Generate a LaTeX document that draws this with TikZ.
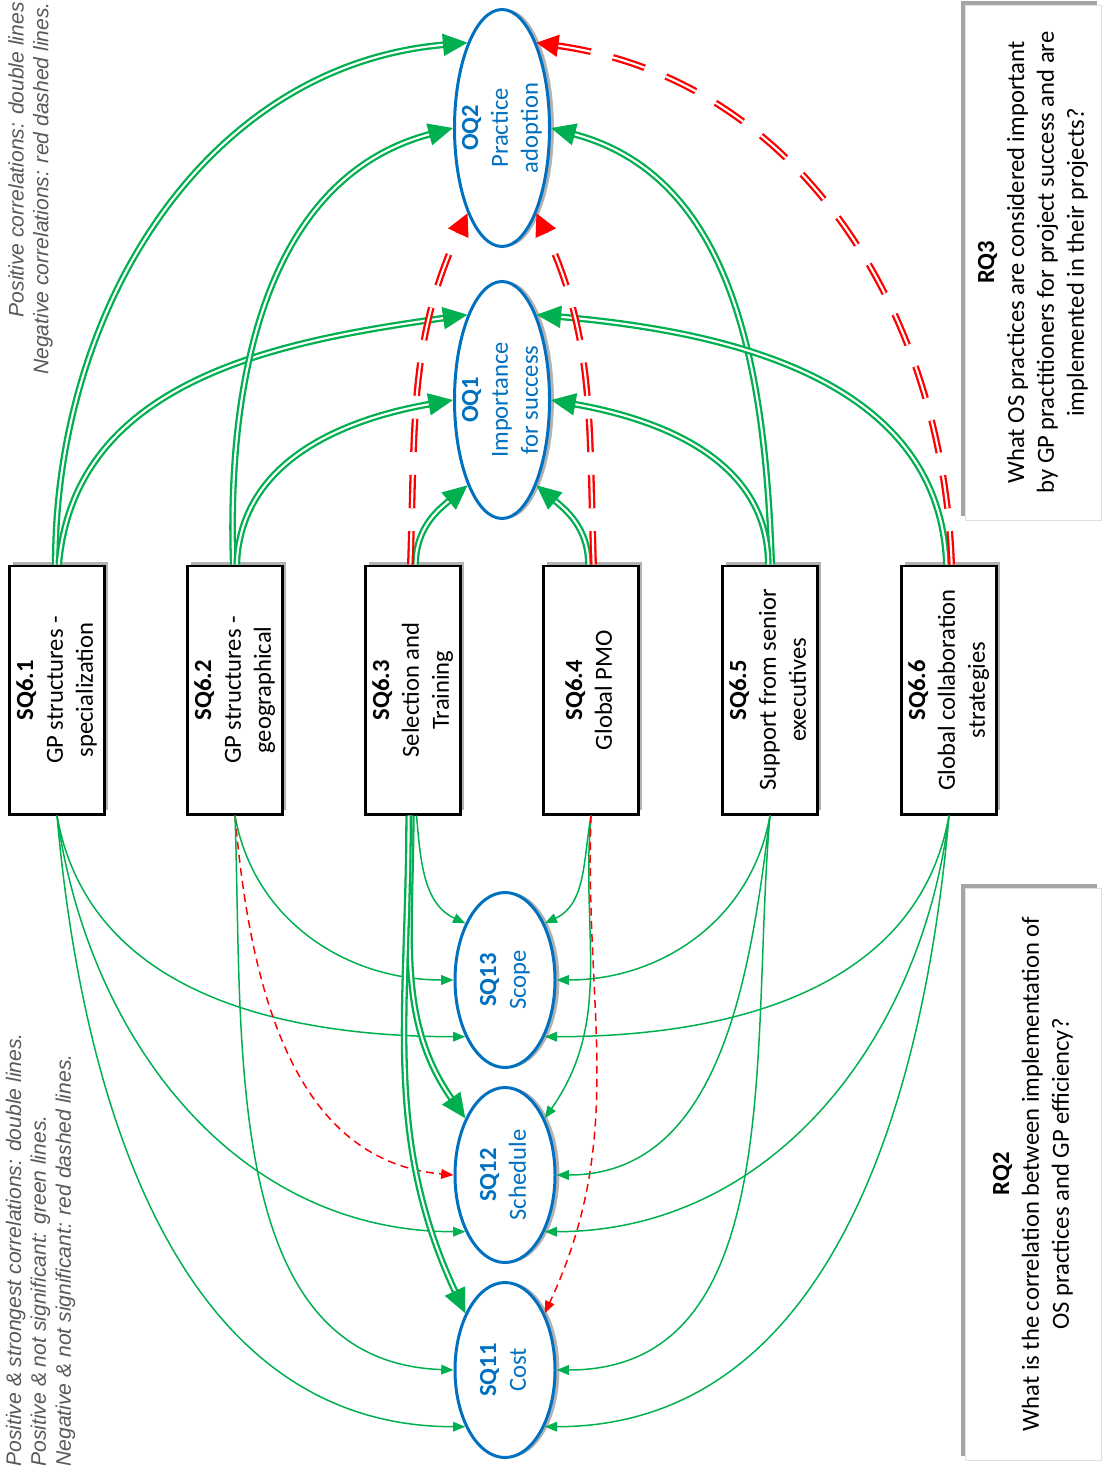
\documentclass[tikz,border=0pt]{standalone}
\usepackage{graphicx}
\usepackage{fontspec}
\setmainfont{Carlito}
\newfontfamily\notefont{Liberation Sans}
\usetikzlibrary{arrows.meta,shapes.geometric,shadows}
\definecolor{osgreen}{RGB}{0,176,80}
\definecolor{osred}{RGB}{255,0,0}
\definecolor{osblue}{RGB}{0,112,192}
\definecolor{notegray}{RGB}{89,89,89}
% text that reads from bottom to top
\newcommand{\uptext}[2][c]{\rotatebox{90}{\begin{tabular}{@{}#1@{}}#2\end{tabular}}}

\begin{document}
\begin{tikzpicture}[x=0.2mm, y=0.2mm, font=\fontsize{14}{17}\selectfont,
    sqbox/.style={rectangle, draw=black, line width=1.7pt, fill=white, inner sep=0pt,
      minimum width=19mm, minimum height=49.6mm,
      drop shadow={shadow xshift=2pt, shadow yshift=2pt, fill=black, opacity=0.3}},
    oqoval/.style={ellipse, draw=osblue, line width=1.7pt, fill=white, inner sep=0pt,
      minimum width=19mm, minimum height=47.4mm,
      drop shadow={shadow xshift=2.5pt, shadow yshift=0pt, fill=black, opacity=0.3}},
    sqoval/.style={oqoval, minimum width=20mm, minimum height=35mm},
    ovaltext/.style={text=osblue, inner sep=0pt},
    rqbox/.style={rectangle, draw=black!12, line width=0.5pt, fill=white, inner sep=0pt,
      drop shadow={shadow xshift=-2.5pt, shadow yshift=2.5pt, fill=black, opacity=0.35}},
    keytext/.style={inner sep=0pt, text=notegray, font=\notefont\itshape\fontsize{12}{14.2}\selectfont},
    posline/.style={draw=osgreen, line width=1.3pt, double=white, double distance=1.2pt,
      -{Triangle[length=14pt,width=12.5pt]}},
    negline/.style={draw=osred, line width=1.3pt, double=white, double distance=1.2pt,
      dash pattern=on 19pt off 13pt, -{Triangle[length=12.5pt,width=12.5pt]}},
    posthin/.style={draw=osgreen, line width=0.85pt, -{Triangle[length=7pt,width=5.5pt]}},
    negthin/.style={draw=osred, line width=0.85pt, dash pattern=on 4.5pt off 3pt,
      -{Triangle[length=7pt,width=5.5pt]}}
  ]
  \useasboundingbox (0,0) rectangle (1103,-1470);

  % research questions
  \node[rqbox, minimum width=27.2mm, minimum height=103mm] (rq3) at (1033,-262.5) {%
    \uptext{\textbf{RQ3}\\What OS practices are considered important\\by GP practitioners for project success and are\\implemented in their projects?}};
  \node[rqbox, minimum width=27.2mm, minimum height=114.4mm] (rq2) at (1033,-1174) {%
    \uptext{\textbf{RQ2}\\What is the correlation between implementation of\\OS practices and GP efficiency?}};

  % legends
  \node[keytext, anchor=north] (keytop) at (31,-2) {%
    \uptext[r]{Positive correlations: double lines\\Negative correlations: red dashed lines.}};
  \node[keytext, anchor=south] (keybot) at (41,-1467) {%
    \uptext[l]{Positive \& strongest correlations: double lines.\\Positive \& not significant: green lines.\\Negative \& not significant: red dashed lines.}};

  % survey questions
  \node[sqbox] (sq61) at (57,-690)  {\uptext{\textbf{SQ6.1}\\GP structures -\\specialization}};
  \node[sqbox] (sq62) at (235,-690) {\uptext{\textbf{SQ6.2}\\GP structures -\\geographical}};
  \node[sqbox] (sq63) at (413,-690) {\uptext{\textbf{SQ6.3}\\Selection and\\Training}};
  \node[sqbox] (sq64) at (591,-690) {\uptext{\textbf{SQ6.4}\\Global PMO}};
  \node[sqbox] (sq65) at (770,-690) {\uptext{\textbf{SQ6.5}\\Support from senior\\executives}};
  \node[sqbox] (sq66) at (949,-690) {\uptext{\textbf{SQ6.6}\\Global collaboration\\strategies}};

  % outcomes
  \node[oqoval, label={[ovaltext]center:\uptext{\textbf{OQ2}\\Practice\\adoption}}] (oq2) at (502,-128) {};
  \node[oqoval, label={[ovaltext]center:\uptext{\textbf{OQ1}\\Importance\\for success}}] (oq1) at (502,-400) {};
  \node[sqoval, label={[ovaltext]center:\uptext{\textbf{SQ13}\\Scope}}] (sq13) at (505,-980) {};
  \node[sqoval, label={[ovaltext]center:\uptext{\textbf{SQ12}\\Schedule}}] (sq12) at (505,-1175) {};
  \node[sqoval, label={[ovaltext]center:\uptext{\textbf{SQ11}\\Cost}}] (sq11) at (505,-1370) {};

  % RQ3 links
  \draw[posline] ([xshift=-1pt]sq61.north) to[out=90,in=185] (oq2.112);
  \draw[posline] ([xshift=1pt]sq61.north) to[out=85,in=188] (oq1.112);
  \draw[posline] ([xshift=-1pt]sq62.north) to[out=92,in=195] (oq2.west);
  \draw[posline] ([xshift=1pt]sq62.north) to[out=88,in=190] (oq1.west);
  \draw[posline] ([xshift=1.5pt]sq63.north) to[out=90,in=220] (oq1.248);
  \draw[posline] ([xshift=-1.5pt]sq64.north) to[out=90,in=-40] (oq1.292);
  \draw[posline] ([xshift=1pt]sq65.north) to[out=92,in=-15] (oq2.east);
  \draw[posline] ([xshift=-1pt]sq65.north) to[out=90,in=-10] (oq1.east);
  \draw[posline] ([xshift=-1.5pt]sq66.north) to[out=92,in=-5] (oq1.68);
  \draw[negline] ([xshift=-1.5pt]sq63.north) to[out=88,in=245] (oq2.248);
  \draw[negline] ([xshift=1.5pt]sq64.north) to[out=92,in=295] (oq2.292);
  \draw[negline] ([xshift=1.5pt]sq66.north) to[out=92,in=-8] (oq2.68);

  % RQ2 links
  \draw[posthin] (sq61.south) to[out=-80,in=180] (sq13.235);
  \draw[posthin] (sq61.south) to[out=-82,in=180] (sq12.235);
  \draw[posthin] (sq61.south) to[out=-85,in=180] (sq11.235);
  \draw[posthin] (sq62.south) to[out=-80,in=180] (sq13.west);
  \draw[negthin] (sq62.south) to[out=-85,in=175] (sq12.west);
  \draw[posthin] (sq62.south) to[out=-88,in=178] (sq11.west);
  \draw[posthin] ([xshift=2pt]sq63.south) to[out=-85,in=155] (sq13.125);
  \draw[posline] ([xshift=-1pt]sq63.south) to[out=-90,in=125] (sq12.125);
  \draw[posline] ([xshift=-2.5pt]sq63.south) to[out=-90,in=115] (sq11.125);
  \draw[posthin] (sq64.south) to[out=-100,in=25] (sq13.55);
  \draw[posthin] (sq64.south) to[out=-95,in=55] (sq12.55);
  \draw[negthin] (sq64.south) to[out=-92,in=65] (sq11.55);
  \draw[posthin] (sq65.south) to[out=-100,in=0] (sq13.east);
  \draw[posthin] (sq65.south) to[out=-97,in=0] (sq12.east);
  \draw[posthin] (sq65.south) to[out=-95,in=0] (sq11.east);
  \draw[posthin] (sq66.south) to[out=-100,in=0] (sq13.305);
  \draw[posthin] (sq66.south) to[out=-97,in=0] (sq12.305);
  \draw[posthin] (sq66.south) to[out=-95,in=0] (sq11.305);
\end{tikzpicture}
\end{document}
